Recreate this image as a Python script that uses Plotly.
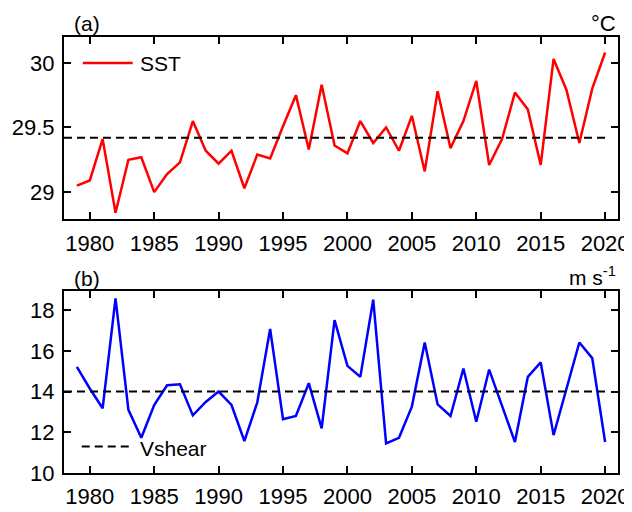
import plotly.graph_objects as go
from plotly.subplots import make_subplots

years = list(range(1979, 2021))
sst = [29.05, 29.09, 29.41, 28.84, 29.25, 29.27, 29.00, 29.14, 29.23, 29.55,
       29.32, 29.22, 29.32, 29.03, 29.29, 29.26, 29.51, 29.75, 29.33, 29.83,
       29.36, 29.30, 29.55, 29.38, 29.50, 29.32, 29.59, 29.16, 29.78, 29.34,
       29.55, 29.86, 29.21, 29.41, 29.77, 29.64, 29.21, 30.03, 29.79, 29.38,
       29.80, 30.08]
vshear = [15.21, 14.15, 13.18, 18.58, 13.10, 11.73, 13.34, 14.31, 14.36, 12.83,
          13.49, 14.00, 13.34, 11.57, 13.46, 17.07, 12.64, 12.80, 14.41, 12.19,
          17.51, 15.26, 14.72, 18.51, 11.45, 11.73, 13.26, 16.41, 13.37, 12.80,
          15.13, 12.52, 15.08, 13.30, 11.52, 14.72, 15.43, 11.86, 14.10, 16.41,
          15.64, 11.52]
sst_mean = 29.42
vshear_mean = 14.0
mean_span = [1978, 2020]
x_ticks = [1980, 1985, 1990, 1995, 2000, 2005, 2010, 2015, 2020]
sst_ticks = [29, 29.5, 30]
vshear_ticks = [10, 12, 14, 16, 18]

FONT = "Arial, Liberation Sans, sans-serif"

fig = make_subplots(rows=2, cols=1, vertical_spacing=0.164)

fig.add_trace(go.Scatter(x=years, y=sst, mode="lines", name="SST",
                         line=dict(color="#ff0000", width=2.5), showlegend=False),
              row=1, col=1)
fig.add_trace(go.Scatter(x=mean_span, y=[sst_mean, sst_mean], mode="lines",
                         line=dict(color="black", width=2, dash="8px,5px"), showlegend=False),
              row=1, col=1)
fig.add_trace(go.Scatter(x=years, y=vshear, mode="lines", name="Vshear",
                         line=dict(color="#0000ff", width=2.5), showlegend=False),
              row=2, col=1)
fig.add_trace(go.Scatter(x=mean_span, y=[vshear_mean, vshear_mean], mode="lines",
                         line=dict(color="black", width=2, dash="8px,5px"), showlegend=False),
              row=2, col=1)

axis_common = dict(showline=True, linecolor="black", linewidth=2, mirror="ticks",
                   ticks="inside", ticklen=7, tickwidth=2, tickcolor="black",
                   showgrid=False, zeroline=False, automargin=False,
                   tickfont=dict(family=FONT, size=22, color="black"))

for r in (1, 2):
    fig.update_xaxes(range=[1978, 2021], tickvals=x_ticks, ticklabelstandoff=3,
                     row=r, col=1, **axis_common)
fig.update_yaxes(range=[28.79, 30.2], tickvals=sst_ticks, ticktext=["29", "29.5", "30"],
                 ticklabelstandoff=3, row=1, col=1, **axis_common)
fig.update_yaxes(range=[10, 18.95], tickvals=vshear_ticks, ticklabelstandoff=3,
                 row=2, col=1, **axis_common)

# legend samples
fig.add_shape(type="line", xref="x domain", yref="y domain", x0=0.034, x1=0.124,
              y0=0.858, y1=0.858, line=dict(color="#ff0000", width=2.5))
fig.add_shape(type="line", xref="x2 domain", yref="y2 domain", x0=0.032, x1=0.12,
              y0=0.146, y1=0.146, line=dict(color="black", width=2, dash="8px,5px"))

ann_font = dict(family=FONT, size=21, color="black")
fig.add_annotation(text="SST", xref="x domain", yref="y domain", x=0.133, y=0.855,
                   xanchor="left", yanchor="middle", showarrow=False, font=ann_font)
fig.add_annotation(text="Vshear", xref="x2 domain", yref="y2 domain", x=0.134, y=0.135,
                   xanchor="left", yanchor="middle", showarrow=False, font=ann_font)
fig.add_annotation(text="(a)", xref="x domain", yref="paper", x=0.014, y=1.03,
                   xanchor="left", yanchor="middle", showarrow=False, font=ann_font)
fig.add_annotation(text="°C", xref="x domain", yref="paper", x=1.0, y=1.03,
                   xanchor="right", yanchor="middle", showarrow=False,
                   font=dict(family=FONT, size=22, color="black"))
fig.add_annotation(text="(b)", xref="x2 domain", yref="paper", x=0.014, y=0.447,
                   xanchor="left", yanchor="middle", showarrow=False, font=ann_font)
fig.add_annotation(text="m s<sup>-1</sup>", xref="x2 domain", yref="paper", x=1.0, y=0.452,
                   xanchor="right", yanchor="middle", showarrow=False, font=ann_font)

# page body has an 8px margin, so the figure is 8px smaller and offset
fig.update_layout(width=624, height=504, margin=dict(l=56, r=14, t=29, b=39),
                  paper_bgcolor="white", plot_bgcolor="white",
                  font=dict(family=FONT, size=21, color="black"))

fig.write_html("out.html")
